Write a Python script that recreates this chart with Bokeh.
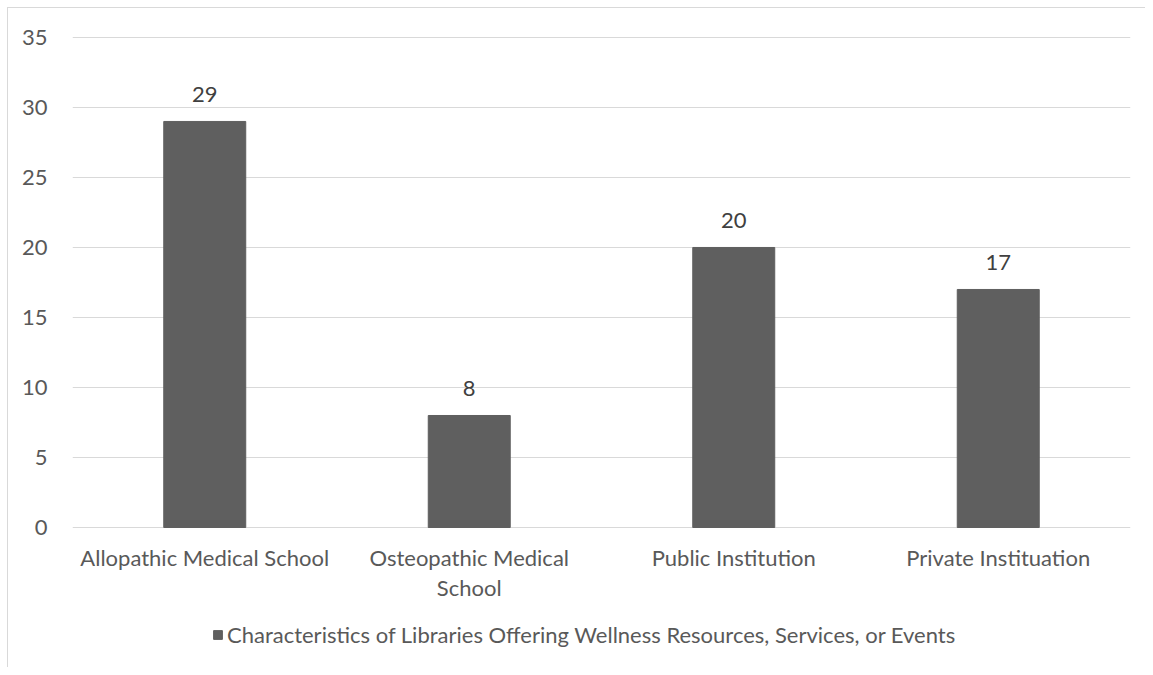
from bokeh.plotting import figure
from bokeh.models import ColumnDataSource, Legend, LegendItem, LabelSet, FixedTicker
from bokeh.core.properties import value
from bokeh.embed import file_html
from bokeh.resources import INLINE

categories = ["Allopathic Medical School", "Osteopathic Medical School",
              "Public Institution", "Private Instituation"]
category_labels = ["Allopathic Medical School", "Osteopathic Medical\nSchool",
                   "Public Institution", "Private Instituation"]
values = [29, 8, 20, 17]
y_ticks = [0, 5, 10, 15, 20, 25, 30, 35]
series_name = "Characteristics of Libraries Offering Wellness Resources, Services, or Events"

FONT = "Lato"
TXT = "#595959"
FS = "22px"

line1 = [c.split("\n")[0] for c in category_labels]
line2 = [c.split("\n")[1] if "\n" in c else "" for c in category_labels]

source = ColumnDataSource(data=dict(cat=categories, val=values,
                                    lab=[str(v) for v in values],
                                    l1=line1, l2=line2,
                                    zero=[0] * len(values)))

# the frame spans the whole lower area so that category labels and legend are not clipped
p = figure(x_range=categories, y_range=(-10.07, 35.14), width=1138, height=660,
           output_backend="svg", toolbar_location=None,
           min_border_left=64, min_border_right=16, min_border_top=27,
           min_border_bottom=0)
p.styles = {"margin-left": "7px", "margin-top": "7px",
            "border-left": "1px solid #d9d9d9", "border-top": "1px solid #d9d9d9"}

r = p.vbar(x="cat", top="val", width=0.31, source=source,
           fill_color="#5f5f5f", line_color="#5f5f5f")

labels = LabelSet(x="cat", y="val", text="lab", source=source,
                  text_align="center", text_baseline="alphabetic", y_offset=19,
                  text_font=value(FONT), text_font_size=FS, text_color="#404040")
p.add_layout(labels)

xlabels1 = LabelSet(x="cat", y="zero", text="l1", source=source,
                    text_align="center", text_baseline="alphabetic", y_offset=-38,
                    text_font=value(FONT), text_font_size=FS, text_color=TXT)
xlabels2 = LabelSet(x="cat", y="zero", text="l2", source=source,
                    text_align="center", text_baseline="alphabetic", y_offset=-68,
                    text_font=value(FONT), text_font_size=FS, text_color=TXT)
p.add_layout(xlabels1)
p.add_layout(xlabels2)

p.outline_line_color = None
p.xgrid.grid_line_color = None
p.ygrid.grid_line_color = "#d9d9d9"
p.ygrid.grid_line_width = 1
p.ygrid.ticker = FixedTicker(ticks=y_ticks)
p.yaxis.ticker = FixedTicker(ticks=y_ticks)
p.xaxis.visible = False
p.yaxis.axis_line_color = None
p.yaxis.major_tick_line_color = None
p.yaxis.minor_tick_line_color = None
p.yaxis.major_label_text_font = FONT
p.yaxis.major_label_text_font_size = FS
p.yaxis.major_label_text_color = TXT
p.yaxis.major_label_standoff = 19
p.x_range.range_padding = 0.0

legend = Legend(items=[LegendItem(label=series_name, renderers=[r])],
                orientation="horizontal", location=(140, 20),
                label_text_font=FONT, label_text_font_size=FS,
                label_text_color=TXT, glyph_width=11, glyph_height=11,
                label_standoff=4, border_line_color=None, padding=0,
                margin=0, background_fill_alpha=0)
p.add_layout(legend, "center")

open("out.html", "w").write(file_html(p, INLINE))
